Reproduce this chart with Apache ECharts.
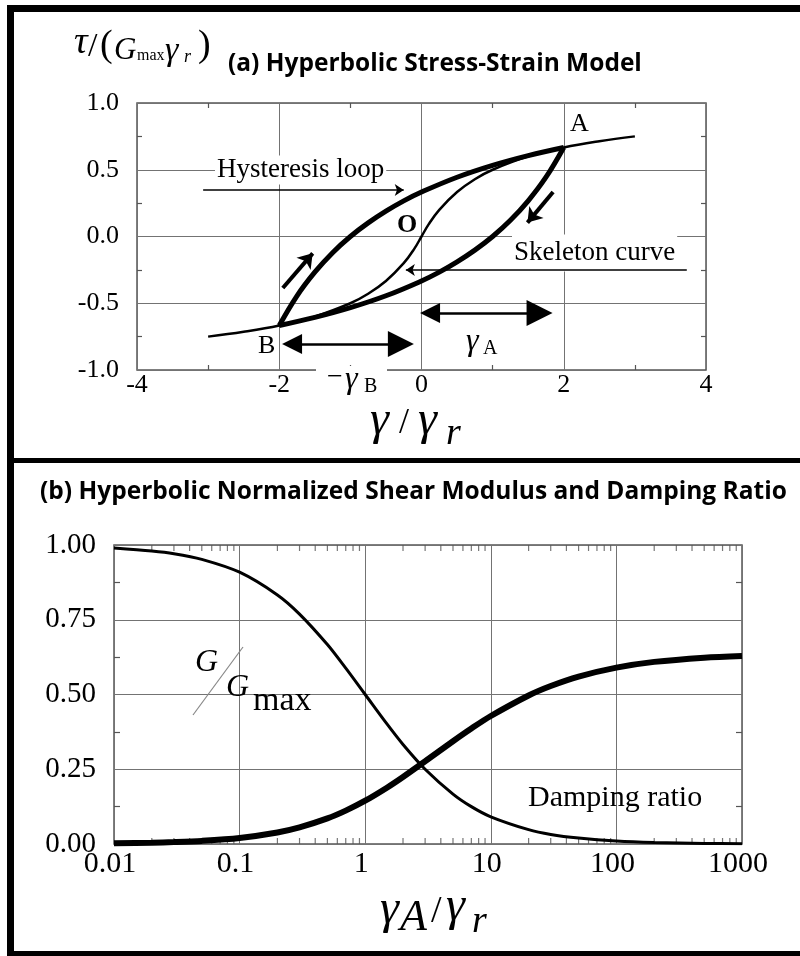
<!DOCTYPE html>
<html>
<head>
<meta charset="utf-8">
<script src="https://cdn.jsdelivr.net/npm/echarts@6/dist/echarts.min.js"></script>
<style>
  html, body { margin: 0; padding: 0; background: #fff; }
  #chart { width: 800px; height: 956px; }
</style>
</head>
<body>
<div id="chart"></div>
<script>
// ---- (a) Hyperbolic stress-strain model: normalized strain vs normalized stress ----
const skeletonX = [-3, -2.5, -2, -1.5, -1, -0.75, -0.5, -0.25, -0.1, 0, 0.1, 0.25, 0.5, 0.75, 1, 1.5, 2, 2.5, 3];
const skeletonY = [-0.75, -0.714, -0.667, -0.6, -0.5, -0.429, -0.333, -0.2, -0.091, 0, 0.091, 0.2, 0.333, 0.429, 0.5, 0.6, 0.667, 0.714, 0.75];

// unloading branch A -> B
const unloadX = [2, 1.75, 1.5, 1.25, 1, 0.75, 0.5, 0.25, 0, -0.5, -1, -1.5, -2];
const unloadY = [0.667, 0.444, 0.267, 0.121, 0, -0.102, -0.190, -0.267, -0.333, -0.444, -0.533, -0.606, -0.667];

// reloading branch B -> A
const reloadX = [-2, -1.75, -1.5, -1.25, -1, -0.75, -0.5, -0.25, 0, 0.5, 1, 1.5, 2];
const reloadY = [-0.667, -0.444, -0.267, -0.121, 0, 0.102, 0.190, 0.267, 0.333, 0.444, 0.533, 0.606, 0.667];

// annotation arrows (data coordinates: start point, end point)
const pointerArrows = [
  [[-3.07, 0.348], [-0.25, 0.348]],   // "Hysteresis loop" pointer
  [[3.73, -0.251], [-0.22, -0.251]]   // "Skeleton curve" pointer
];
const loadingArrows = [
  [[-1.95, -0.386], [-1.53, -0.126]], // reloading direction
  [[1.85, 0.333], [1.49, 0.104]]      // unloading direction
];
const spanArrows = [
  [[0.12, -0.573], [1.66, -0.573]],   // gamma_A
  [[-1.82, -0.805], [-0.29, -0.805]]  // -gamma_B
];

const xTicksA = ['-4', '-2', '0', '2', '4'];
const yTicksA = ['-1.0', '-0.5', '0.0', '0.5', '1.0'];

// ---- (b) Normalized shear modulus and damping ratio vs normalized strain amplitude ----
const strainB = [0.01, 0.02, 0.03, 0.05, 0.1, 0.2, 0.3, 0.5, 0.7, 1, 1.5, 2, 3, 5, 7, 10, 20, 30, 50, 100, 200, 500, 1000];
const modulusRatio = [0.990, 0.980, 0.971, 0.952, 0.909, 0.833, 0.769, 0.667, 0.588, 0.500, 0.400, 0.333, 0.250, 0.167, 0.125, 0.091, 0.048, 0.032, 0.020, 0.010, 0.005, 0.002, 0.001];
const dampingRatio = [0.0021, 0.0042, 0.0063, 0.0104, 0.0202, 0.0386, 0.0556, 0.0856, 0.1116, 0.1448, 0.1892, 0.2241, 0.2766, 0.3438, 0.3863, 0.4281, 0.4968, 0.5285, 0.5600, 0.5900, 0.6091, 0.6233, 0.6291];

const xTicksB = ['0.01', '0.1', '1', '10', '100', '1000'];
const yTicksB = ['0.00', '0.25', '0.50', '0.75', '1.00'];
// minor log ticks drawn along the top and bottom frame
const logMinorTicks = [
  0.02, 0.03, 0.04, 0.05, 0.06, 0.07, 0.08, 0.09,
  0.2, 0.3, 0.4, 0.5, 0.6, 0.7, 0.8, 0.9,
  2, 3, 4, 5, 6, 7, 8, 9,
  20, 30, 40, 50, 60, 70, 80, 90,
  200, 300, 400, 500, 600, 700, 800, 900
];

const SERIF = 'Liberation Serif';
const GRID_C = '#737373';
const FRAME_C = '#555';

const zip = (xs, ys) => xs.map((x, i) => [x, ys[i]]);

function txt(text, x, y, size, extra) {
  return {
    type: 'text', x: x, y: y, z: 10, silent: true,
    style: Object.assign({
      text: text, fill: '#000', fontFamily: SERIF, fontSize: size,
      align: 'left', verticalAlign: 'middle', textAlign: 'left', textVerticalAlign: 'middle'
    }, extra || {})
  };
}

const axisLabelBase = { color: '#000', fontFamily: SERIF };
const noLine = { show: false, onZero: false };
const minor = (len) => ({ show: true, splitNumber: 2, length: len, lineStyle: { color: FRAME_C, width: 1.2 } });

const chart = echarts.init(document.getElementById('chart'), null, { renderer: 'canvas' });

chart.setOption({
  animation: false,
  backgroundColor: '#fff',
  grid: [
    { left: 137, top: 103, width: 569, height: 267, show: true, borderColor: FRAME_C, borderWidth: 1.5, backgroundColor: 'transparent' },
    { left: 114, top: 545, width: 628, height: 299, show: true, borderColor: FRAME_C, borderWidth: 1.5, backgroundColor: 'transparent' }
  ],
  xAxis: [
    {
      gridIndex: 0, type: 'value', min: -4, max: 4, interval: 2, position: 'bottom',
      axisLine: noLine, axisTick: { show: false, inside: true }, minorTick: minor(5),
      splitLine: { show: true, lineStyle: { color: GRID_C, width: 1 } },
      axisLabel: Object.assign({}, axisLabelBase, { fontSize: 26, margin: 2,
        formatter: (v) => xTicksA[Math.round((v + 4) / 2)] })
    },
    {
      gridIndex: 0, type: 'value', min: -4, max: 4, interval: 2, position: 'top',
      axisLine: noLine, axisTick: { show: false, inside: true }, axisLabel: { show: false },
      minorTick: minor(5), splitLine: { show: false }
    },
    {
      gridIndex: 1, type: 'log', logBase: 10, min: 0.01, max: 1000, position: 'bottom',
      axisLine: noLine, axisTick: { show: false },
      splitLine: { show: true, lineStyle: { color: GRID_C, width: 1 } },
      axisLabel: Object.assign({}, axisLabelBase, { fontSize: 30, margin: 5, padding: [0, 8, 0, 0],
        formatter: (v) => xTicksB[Math.round(Math.log10(v)) + 2] })
    }
  ],
  yAxis: [
    {
      gridIndex: 0, type: 'value', min: -1, max: 1, interval: 0.5, position: 'left',
      axisLine: noLine, axisTick: { show: false, inside: true }, minorTick: minor(5),
      splitLine: { show: true, lineStyle: { color: GRID_C, width: 1 } },
      axisLabel: Object.assign({}, axisLabelBase, { fontSize: 26, margin: 18, padding: [0, 0, 10, 0],
        formatter: (v) => yTicksA[Math.round((v + 1) / 0.5)] })
    },
    {
      gridIndex: 0, type: 'value', min: -1, max: 1, interval: 0.5, position: 'right',
      axisLine: noLine, axisTick: { show: false, inside: true }, axisLabel: { show: false },
      minorTick: minor(5), splitLine: { show: false }
    },
    {
      gridIndex: 1, type: 'value', min: 0, max: 1, interval: 0.25, position: 'left',
      axisLine: noLine, axisTick: { show: false, inside: true }, minorTick: minor(6),
      splitLine: { show: true, lineStyle: { color: GRID_C, width: 1 } },
      axisLabel: Object.assign({}, axisLabelBase, { fontSize: 29, margin: 18, padding: [0, 0, 10, 0],
        formatter: (v) => yTicksB[Math.round(v / 0.25)] })
    },
    {
      gridIndex: 1, type: 'value', min: 0, max: 1, interval: 0.25, position: 'right',
      axisLine: noLine, axisTick: { show: false, inside: true }, axisLabel: { show: false },
      minorTick: minor(6), splitLine: { show: false }
    }
  ],
  series: [
    // (a) skeleton curve
    { type: 'line', xAxisIndex: 0, yAxisIndex: 0, data: zip(skeletonX, skeletonY), smooth: 0.4,
      showSymbol: false, silent: true, lineStyle: { color: '#000', width: 2.5 } },
    // (a) hysteresis loop
    { type: 'line', xAxisIndex: 0, yAxisIndex: 0, data: zip(unloadX, unloadY), smooth: 0.4,
      showSymbol: false, silent: true, lineStyle: { color: '#000', width: 5 } },
    { type: 'line', xAxisIndex: 0, yAxisIndex: 0, data: zip(reloadX, reloadY), smooth: 0.4,
      showSymbol: false, silent: true, lineStyle: { color: '#000', width: 5 } },
    // (a) annotation arrows
    { type: 'lines', coordinateSystem: 'cartesian2d', xAxisIndex: 0, yAxisIndex: 0, silent: true,
      symbol: ['none', 'arrow'], symbolSize: [7, 9],
      lineStyle: { color: '#000', width: 1.5, opacity: 1 },
      data: pointerArrows.map(c => ({ coords: c })) },
    { type: 'lines', coordinateSystem: 'cartesian2d', xAxisIndex: 0, yAxisIndex: 0, silent: true,
      symbol: ['none', 'arrow'], symbolSize: [10, 14],
      lineStyle: { color: '#000', width: 4, opacity: 1 },
      data: loadingArrows.map(c => ({ coords: c })) },
    { type: 'lines', coordinateSystem: 'cartesian2d', xAxisIndex: 0, yAxisIndex: 0, silent: true,
      symbol: ['triangle', 'triangle'], symbolSize: [20, 26],
      lineStyle: { color: '#000', width: 2.6, opacity: 1 },
      data: spanArrows.map(c => ({ coords: c })) },

    // (b) normalized shear modulus G/Gmax
    { type: 'line', xAxisIndex: 2, yAxisIndex: 2, data: zip(strainB, modulusRatio), smooth: 0.3,
      showSymbol: false, silent: true, lineStyle: { color: '#000', width: 3 } },
    // (b) damping ratio
    { type: 'line', xAxisIndex: 2, yAxisIndex: 2, data: zip(strainB, dampingRatio), smooth: 0.3,
      showSymbol: false, silent: true, lineStyle: { color: '#000', width: 6 } },
    // (b) minor log ticks on bottom and top frame
    { type: 'scatter', xAxisIndex: 2, yAxisIndex: 2, silent: true, clip: false,
      symbol: 'rect', symbolSize: [1.2, 6], symbolOffset: [0, -3], itemStyle: { color: FRAME_C },
      data: logMinorTicks.map(v => [v, 0]) },
    { type: 'scatter', xAxisIndex: 2, yAxisIndex: 2, silent: true, clip: false,
      symbol: 'rect', symbolSize: [1.2, 6], symbolOffset: [0, 3], itemStyle: { color: FRAME_C },
      data: logMinorTicks.map(v => [v, 1]) }
  ],
  graphic: {
    elements: [
      // panel frame
      { type: 'rect', silent: true, z: 20, shape: { x: 7, y: 5, width: 7, height: 951 }, style: { fill: '#000' } },
      { type: 'rect', silent: true, z: 20, shape: { x: 7, y: 5, width: 793, height: 7 }, style: { fill: '#000' } },
      { type: 'rect', silent: true, z: 20, shape: { x: 7, y: 458, width: 793, height: 5 }, style: { fill: '#000' } },
      { type: 'rect', silent: true, z: 20, shape: { x: 7, y: 951, width: 793, height: 5 }, style: { fill: '#000' } },

      // titles
      txt('(a) Hyperbolic Stress-Strain Model', 228, 64, 24.5, { fontFamily: 'Open Sans', fontWeight: 'bold' }),
      txt('(b) Hyperbolic Normalized Shear Modulus and Damping Ratio', 40, 492, 24.5, { fontFamily: 'Open Sans', fontWeight: 'bold' }),

      // (a) y-axis title  τ/(Gmax γr)
      txt('τ', 74, 43, 38, { fontStyle: 'italic' }),
      txt('/', 88, 47, 34),
      txt('(', 100, 46, 38),
      txt('G', 114, 51, 31, { fontStyle: 'italic' }),
      txt('max', 137, 56, 16),
      txt('γ', 165, 51, 34, { fontStyle: 'italic' }),
      txt('r', 184, 57, 18, { fontStyle: 'italic' }),
      txt(')', 198, 46, 38),

      // (a) x-axis title  γ/γr
      txt('γ', 370, 421, 48, { fontStyle: 'italic' }),
      txt('/', 399, 424, 36),
      txt('γ', 418, 421, 48, { fontStyle: 'italic' }),
      txt('r', 446, 434, 38, { fontStyle: 'italic' }),

      // (a) annotations
      txt('Hysteresis loop', 215, 170, 27, { backgroundColor: '#fff', padding: [1, 2, 1, 2] }),
      Object.assign(txt('Skeleton curve', 512, 253, 27, { backgroundColor: '#fff', padding: [8, 2, 2, 2] }), { z: 1 }),
      txt('A', 570, 124, 26),
      txt('B', 258, 346, 26),
      txt('O', 397, 225, 26, { fontWeight: 'bold' }),
      txt('γ', 466, 342, 32, { fontStyle: 'italic' }),
      txt('A', 483, 349, 20),
      { type: 'rect', silent: true, z: 1, shape: { x: 316, y: 366, width: 71, height: 8 }, style: { fill: '#fff' } },
      txt('−', 327, 378, 28),
      txt('γ', 345, 380, 32, { fontStyle: 'italic' }),
      txt('B', 364, 387, 20),

      // (b) curve labels
      txt('G', 195, 663, 32, { fontStyle: 'italic' }),
      { type: 'line', silent: true, z: 10, shape: { x1: 193, y1: 715, x2: 243, y2: 647 }, style: { stroke: '#888', lineWidth: 1.2 } },
      txt('G', 226, 688, 32, { fontStyle: 'italic' }),
      txt('max', 253, 701, 34),
      txt('Damping ratio', 528, 798, 30),

      // (b) x-axis title  γA/γr
      txt('γ', 380, 910, 48, { fontStyle: 'italic' }),
      txt('A', 400, 918, 44, { fontStyle: 'italic' }),
      txt('/', 431, 912, 38),
      txt('γ', 446, 907, 48, { fontStyle: 'italic' }),
      txt('r', 472, 922, 38, { fontStyle: 'italic' })
    ]
  }
});
</script>
</body>
</html>
